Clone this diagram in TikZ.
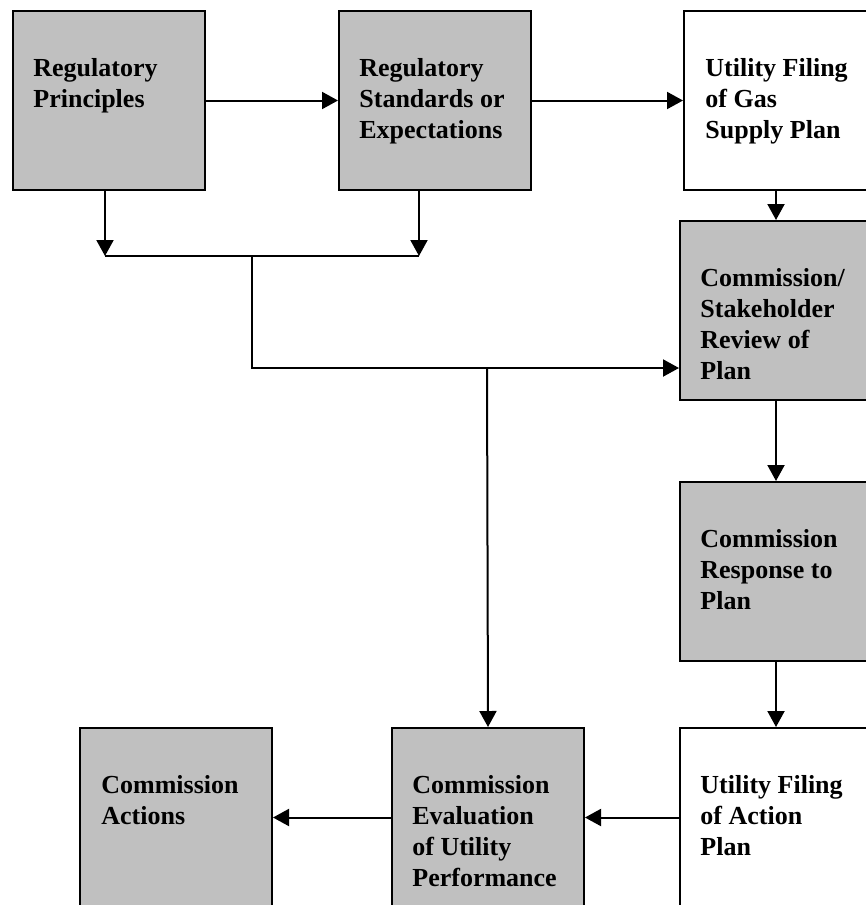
\documentclass[tikz,border=0pt]{standalone}
\usepackage{fontspec}
\setmainfont{Liberation Serif}
\usetikzlibrary{arrows.meta,calc}
\definecolor{boxgrey}{HTML}{C0C0C0}

\begin{document}
\begin{tikzpicture}[x=0.5pt,y=-0.5pt,
	box/.style={draw,line width=1pt,minimum width=96pt,minimum height=89.5pt,inner sep=0pt,anchor=north west},
	greybox/.style={box,fill=boxgrey},
	whitebox/.style={box,fill=white},
	lbl/.style={anchor=base west,inner sep=0pt,text width=85pt,align=flush left,font=\fontsize{13}{15.5}\selectfont\bfseries},
	arr/.style={line width=1pt,-{Triangle[length=8pt,width=8.5pt]}},
	ln/.style={line width=1pt}]
		\useasboundingbox (0,0) rectangle (866,905);
		\clip (0,0) rectangle (866,905);
		% boxes
		\node[greybox] (prin) at (12,10) {};
		\node[greybox] (stand) at (338,10) {};
		\node[whitebox] (gasplan) at (683,10) {};
		\node[greybox] (review) at (679,220) {};
		\node[greybox] (response) at (679,481) {};
		\node[whitebox] (actplan) at (679,727) {};
		\node[greybox] (eval) at (391,727) {};
		\node[greybox] (actions) at (79,727) {};
		% texts
		\node[lbl] (prin-t) at ($(prin.north west)+(21,66)$) {Regulatory\\Principles};
		\node[lbl] (stand-t) at ($(stand.north west)+(21,66)$) {Regulatory\\Standards or\\Expectations};
		\node[lbl] (gasplan-t) at ($(gasplan.north west)+(22,66)$) {Utility Filing\\of Gas\\Supply Plan};
		\node[lbl] (review-t) at ($(review.north west)+(21,66)$) {Commission/\\Stakeholder\\Review of\\Plan};
		\node[lbl] (response-t) at ($(response.north west)+(21,66)$) {Commission\\Response to\\Plan};
		\node[lbl] (actplan-t) at ($(actplan.north west)+(21,66)$) {Utility Filing\\of Action\\Plan};
		\node[lbl] (eval-t) at ($(eval.north west)+(21,66)$) {Commission\\Evaluation\\of Utility\\Performance};
		\node[lbl] (actions-t) at ($(actions.north west)+(22,66)$) {Commission\\Actions};
		% joins
		\coordinate (jA) at (105,256);
		\coordinate (jB) at (419,256);
		\coordinate (jM) at (252,256);
		\coordinate (jR) at (487,368);
		% connectors
		\draw[arr] (prin) -- (stand);
		\draw[arr] (stand) -- (gasplan);
		\draw[arr] (prin.south -| jA) -- (jA);
		\draw[arr] (stand.south -| jB) -- (jB);
		\draw[ln] (jA) -- (jB);
		\draw[arr] (jM) |- (review.west |- jR);
		\draw[arr] (jR) -- (eval.north);
		\draw[arr] (gasplan.south -| review.north) -- (review.north);
		\draw[arr] (review) -- (response);
		\draw[arr] (response) -- (actplan);
		\draw[arr] (actplan) -- (eval);
		\draw[arr] (eval) -- (actions);
	\end{tikzpicture}
\end{document}
